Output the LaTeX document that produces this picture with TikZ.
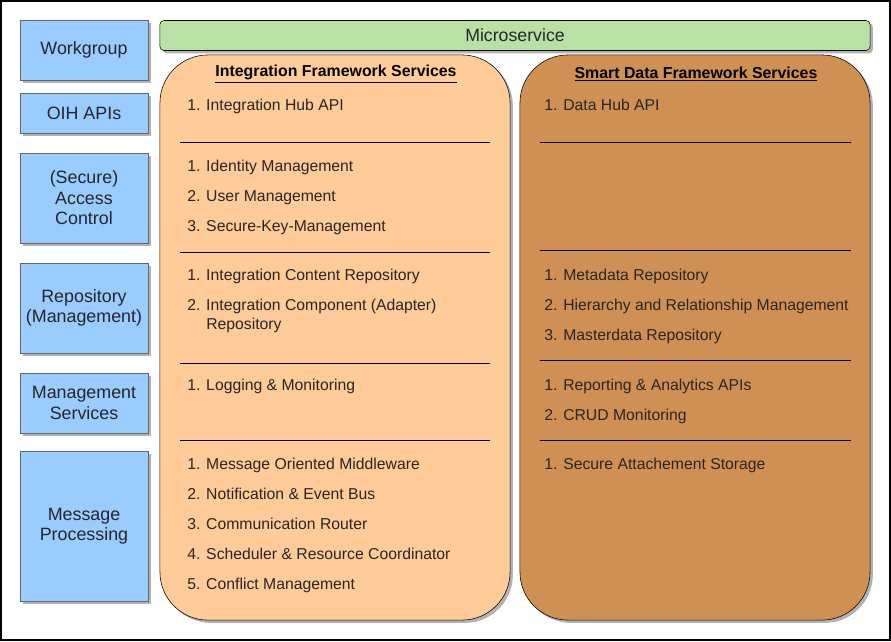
\documentclass[tikz,border=0pt]{standalone}
\usepackage{fontspec}
\setmainfont{Liberation Sans}
\usetikzlibrary{shadows}
\definecolor{boxblue}{HTML}{99CCFF}
\definecolor{boxgreen}{HTML}{B9E0A5}
\definecolor{peach}{HTML}{FFCC99}
\definecolor{clay}{HTML}{CF9153}
\definecolor{ink}{HTML}{262626}
\tikzset{
	shade/.style={drop shadow={shadow xshift=0.07cm,shadow yshift=-0.07cm,fill=black,opacity=0.3}},
	layer/.style={draw=black!60,fill=boxblue,shade,minimum width=3.2cm,align=center,
		text=ink,inner sep=0pt,font=\fontsize{12.7}{14.6}\selectfont},
	panel/.style={draw,rounded corners=1.2cm,minimum width=8.75cm,minimum height=14.125cm,shade},
	head/.style={font=\bfseries\fontsize{11.3}{13}\selectfont,text=black},
	item/.style={anchor=base west,inner sep=0pt,text=ink,align=left,font=\fontsize{11.2}{13.5}\selectfont},
	rule/.style={line width=0.7pt}
}
\begin{document}
\begin{tikzpicture}[x=0.025cm,y=-0.025cm]
	\useasboundingbox (0,0) rectangle (891,641);
	\draw[line width=1pt] (1,1) rectangle (890,640);
	% layers on the left
	\node[layer,minimum height=1.5cm] (work) at (84,50) {\raisebox{-1.5pt}{Workgroup}};
	\node[layer,minimum height=1cm] (api) at (84,113) {\raisebox{-1pt}{OIH APIs}};
	\node[layer,minimum height=2.25cm] (access) at (84,198) {(Secure)\\Access\\Control};
	\node[layer,minimum height=2.25cm] (repo) at (84,308) {Repository\\(Management)};
	\node[layer,minimum height=1.5cm] (mgmt) at (84,403) {Management\\Services};
	\node[layer,minimum height=3.75cm] (msg) at (84,526) {Message\\Processing};
	% microservice bar and the two panels
	\node[draw,fill=boxgreen,rounded corners=0.1cm,minimum width=17.75cm,minimum height=0.75cm,
		shade,text=ink,font=\fontsize{12.6}{14}\selectfont] (micro) at (515,35.5) {Microservice};
	\node[panel,fill=peach] (ifs) at (335,337.5) {};
	\node[panel,fill=clay] (sdf) at (695,337.5) {};
	\node[head] (ifshead) at (336,74) {\underline{Integration Framework Services}};
	\node[head] (sdfhead) at (696,74) {\underline{Smart Data Framework Services}};
	\foreach \Y in {142,252,363,440}
	\draw[rule] (180,\Y) -- (490,\Y);
	\foreach \Y in {142,250,360,440}
	\draw[rule] (540,\Y) -- (851,\Y);
	% integration framework items
	\foreach \Y/\T [count=\Z] in {104/1. Integration Hub API, 165/1. Identity Management,
		195/2. User Management, 225/3. Secure-Key-Management,
		274/1. Integration Content Repository,
		323/2. Integration Component (Adapter)\\\hphantom{2. }Repository,
		384/1. Logging \& Monitoring, 463/1. Message Oriented Middleware,
		493/2. Notification \& Event Bus, 523/3. Communication Router,
		553/4. Scheduler \& Resource Coordinator, 583/5. Conflict Management}
	{\node[item] (ifs\Z) at (187,\Y+6) {\T};}
	% smart data framework items
	\foreach \Y/\T [count=\Z] in {104/1. Data Hub API, 274/1. Metadata Repository,
		304/2. Hierarchy and Relationship Management, 334/3. Masterdata Repository,
		384/1. Reporting \& Analytics APIs, 414/2. CRUD Monitoring,
		463/1. Secure Attachement Storage}
	{\node[item] (sdf\Z) at (544,\Y+6) {\T};}
\end{tikzpicture}
\end{document}
